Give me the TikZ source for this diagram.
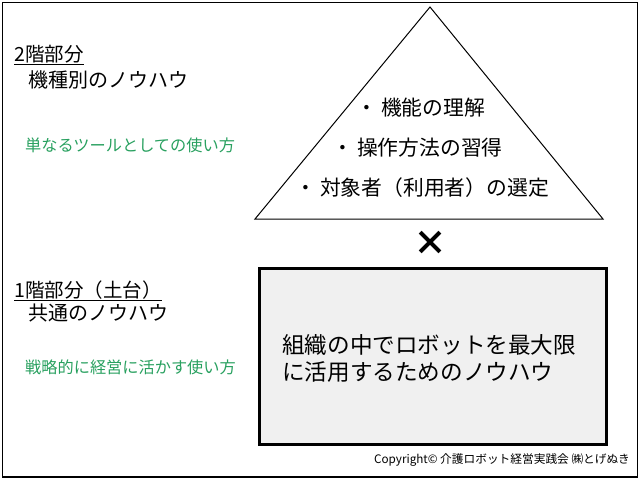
\documentclass[tikz,border=0pt]{standalone}
\usepackage{fontspec}
\setmainfont{Noto Sans CJK JP}
\usetikzlibrary{math}
\definecolor{kgreen}{RGB}{40,160,95}
\definecolor{kgray}{RGB}{240,240,240}

\begin{document}
\begin{tikzpicture}[x=1pt,y=-1pt]

\tikzmath{
\W = 640;
\H = 480;
\tx = 430; %apex of triangle
\ty = 7;
\bl = 255; %base of triangle
\br = 603;
\by = 219;
}

\useasboundingbox (0,0) rectangle (\W,\H);

%frame:
\draw[line width=1.3pt] (2.5,2.5) rectangle (637.5,477);

%triangle:
\coordinate (A) at (\tx,\ty);
\coordinate (L) at (\bl,\by);
\coordinate (R) at (\br,\by);
\draw[line width=1pt,line join=miter] (L) -- (A) -- (R) -- cycle;

\node[anchor=west,inner sep=0,font=\fontsize{20.8}{24}\selectfont] (p1) at (356,108) {・\hspace{0.2em}機能の理解};
\node[anchor=west,inner sep=0,font=\fontsize{20.8}{24}\selectfont] (p2) at (332,148) {・\hspace{0.2em}操作方法の習得};
\node[anchor=west,inner sep=0,font=\fontsize{20.8}{24}\selectfont] (p3) at (295,188) {・\hspace{0.2em}対象者（利用者）の選定};

%times
\node[inner sep=0,font=\fontsize{34}{34}\selectfont\bfseries] (x) at (430,243) {×};

%base box:
\node[draw,line width=3pt,fill=kgray,minimum width=347,minimum height=176,inner sep=0] (base) at (433,356.5) {};
\node[anchor=west,align=left,inner sep=0,font=\fontsize{22.6}{27}\selectfont] (bt) at (282,358) {組織の中でロボットを最大限\\に活用するためのノウハウ};

%left labels:
\node[anchor=west,inner sep=0,font=\fontsize{19.5}{24}\selectfont] (f2) at (14,55) {\underline{2階部分}};
\node[anchor=west,inner sep=0,font=\fontsize{20}{24}\selectfont] (f2n) at (28,80) {機種別のノウハウ};
\node[anchor=west,inner sep=0,font=\fontsize{16.2}{20}\selectfont,text=kgreen] (f2u) at (25,145) {単なるツールとしての使い方};

\node[anchor=west,inner sep=0,font=\fontsize{19.5}{24}\selectfont] (f1) at (14,291) {\underline{1階部分（土台）}};
\node[anchor=west,inner sep=0,font=\fontsize{20}{24}\selectfont] (f1n) at (28,313) {共通のノウハウ};
\node[anchor=west,inner sep=0,font=\fontsize{16.2}{20}\selectfont,text=kgreen] (f1u) at (25,367) {戦略的に経営に活かす使い方};

%copyright
\node[anchor=east,inner sep=0,font=\fontsize{11.7}{14}\selectfont] (c) at (630,460) {Copyright© 介護ロボット経営実践会\ ㈱とげぬき};

\end{tikzpicture}
\end{document}
